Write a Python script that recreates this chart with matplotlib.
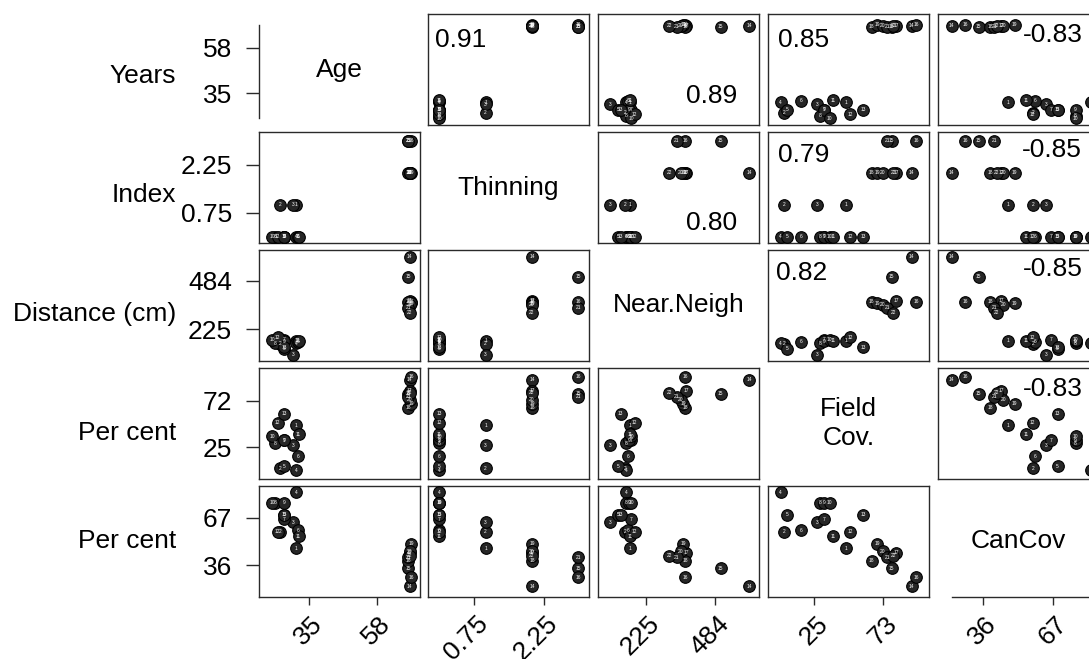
import numpy as np
import matplotlib.pyplot as plt
from matplotlib.transforms import offset_copy

plt.rcParams['font.family'] = ['Liberation Sans', 'DejaVu Sans']

# ---- site data (13 young stands, 9 old stands) ----
age = [30.5, 25.2, 29.5, 30.6, 26.6, 31.2, 26.6, 23.6, 26.6, 22.5, 31.5, 24.4, 26.6,
       69.0, 68.5, 69.5, 69.0, 68.5, 69.5, 69.0, 68.5, 69.0]
thinning = [1, 1, 1, 0, 0, 0, 0, 0, 0, 0, 0, 0, 0,
            2, 3, 3, 2, 2, 2, 2, 3, 2]
near_neigh = [165, 147, 90, 150, 120, 158, 169, 150, 160, 170, 165, 182, 130,
              613, 505, 372, 376, 372, 365, 356, 340, 312]
field_cov = [47, 4, 27, 1.7, 6, 16, 32, 29, 32, 36, 38, 50, 59,
             93, 79, 96, 82, 65, 69, 73, 76, 80]
can_cov = [47, 58, 64, 84, 69, 59, 66, 77, 77, 77, 55, 58, 69,
           22, 34, 28, 44, 39, 50, 45, 41, 42]
site_id = list(range(1, len(age) + 1))

var_names = ['Age', 'Thinning', 'Near.Neigh', 'Field\nCov.', 'CanCov']
unit_labels = ['Years', 'Index', 'Distance (cm)', 'Per cent', 'Per cent']
x_ticks = [[35, 58], [0.75, 2.25], [225, 484], [25, 73], [36, 67]]
y_ticks = [[35, 58], [0.75, 2.25], [225, 484], [25, 72], [36, 67]]

# correlation labels for the upper panels: (row, col) -> text
corr_text = {(0, 1): '0.91', (0, 2): '0.89', (0, 3): '0.85', (0, 4): '-0.83',
             (1, 2): '0.80', (1, 3): '0.79', (1, 4): '-0.85',
             (2, 3): '0.82', (2, 4): '-0.85',
             (3, 4): '-0.83'}
# where each label sits (axes fraction, alignment)
corr_pos = {(0, 1): (0.045, 0.87, 'left', 'top'),
            (0, 2): (0.863, 0.198, 'right', 'baseline'),
            (0, 3): (0.062, 0.875, 'left', 'top'),
            (0, 4): (0.90, 0.92, 'right', 'top'),
            (1, 2): (0.863, 0.117, 'right', 'baseline'),
            (1, 3): (0.062, 0.90, 'left', 'top'),
            (1, 4): (0.895, 0.945, 'right', 'top'),
            (2, 3): (0.05, 0.90, 'left', 'top'),
            (2, 4): (0.90, 0.935, 'right', 'top'),
            (3, 4): (0.90, 0.92, 'right', 'top')}

data = [age, thinning, near_neigh, field_cov, can_cov]
xlims = [(18.1, 72.5), (-0.24, 3.23), (45, 649), (-7, 105), (16, 87.4)]
ylims = [(19, 75), (-0.19, 3.28), (56, 648), (-7, 105), (15, 88)]

W, H = 1089, 659
fig = plt.figure(figsize=(W / 100, H / 100), dpi=100)

col_left = [259, 428, 598, 768, 938]
row_top = [14, 132, 250, 368, 486]
pw, ph = 161, 111
FS = 19
frame_col = '#2a2a2a'


def fmt(v):
    return f'{v:g}'


for r in range(5):
    for c in range(5):
        ax = fig.add_axes([col_left[c] / W, 1 - (row_top[r] + ph) / H, pw / W, ph / H])
        ax.set_xlim(xlims[c])
        ax.set_ylim(ylims[r])
        ax.set_xticks([])
        ax.set_yticks([])
        for sp in ax.spines.values():
            sp.set_color(frame_col)
            sp.set_linewidth(1.0)

        if r == c:
            for sp in ax.spines.values():
                sp.set_visible(False)
            ax.text(0.5, 0.5, var_names[r], transform=ax.transAxes, ha='center',
                    va='center', fontsize=FS, linespacing=1.25)
            if r == 0:
                ax.spines['left'].set_visible(True)
                ax.spines['left'].set_bounds(min(age), max(age))
            if r == 4:
                ax.spines['bottom'].set_visible(True)
                ax.spines['bottom'].set_bounds(min(can_cov), max(can_cov))
        else:
            ax.scatter(data[c], data[r], s=70, facecolor='#262626', edgecolor='black',
                       linewidth=0.8, zorder=3)
            for x, y, n in zip(data[c], data[r], site_id):
                ax.text(x, y, str(n), fontsize=3.5, color='white', ha='center',
                        va='center', zorder=4)
            if (r, c) in corr_text:
                px, py, ha, va = corr_pos[(r, c)]
                ax.text(px, py, corr_text[(r, c)], transform=ax.transAxes,
                        ha=ha, va=va, fontsize=FS)

        # left axis ticks on the first column
        if c == 0:
            ax.set_yticks(y_ticks[r])
            ax.set_yticklabels([fmt(v) for v in y_ticks[r]])
            ax.tick_params(axis='y', direction='out', length=9.5, width=1.0,
                           color=frame_col, labelsize=FS, pad=10)

        # bottom axis ticks on the last row, labels turned 45 degrees
        if r == 4:
            ax.set_xticks(x_ticks[c])
            ax.tick_params(axis='x', direction='out', length=6, width=1.0,
                           color=frame_col, labelbottom=False)
            trans = offset_copy(ax.get_xaxis_transform(), fig=fig, x=10, y=-23,
                                units='dots')
            for v in x_ticks[c]:
                ax.text(v, 0, fmt(v), transform=trans, rotation=45,
                        rotation_mode='anchor', ha='right', va='center',
                        fontsize=FS, clip_on=False)

# variable units beside each row
unit_baseline = [83, 202, 321, 440, 548]
for lab, yb in zip(unit_labels, unit_baseline):
    fig.text(176 / W, 1 - yb / H, lab, ha='right', va='baseline', fontsize=FS)

fig.savefig('out.png', dpi=100)
